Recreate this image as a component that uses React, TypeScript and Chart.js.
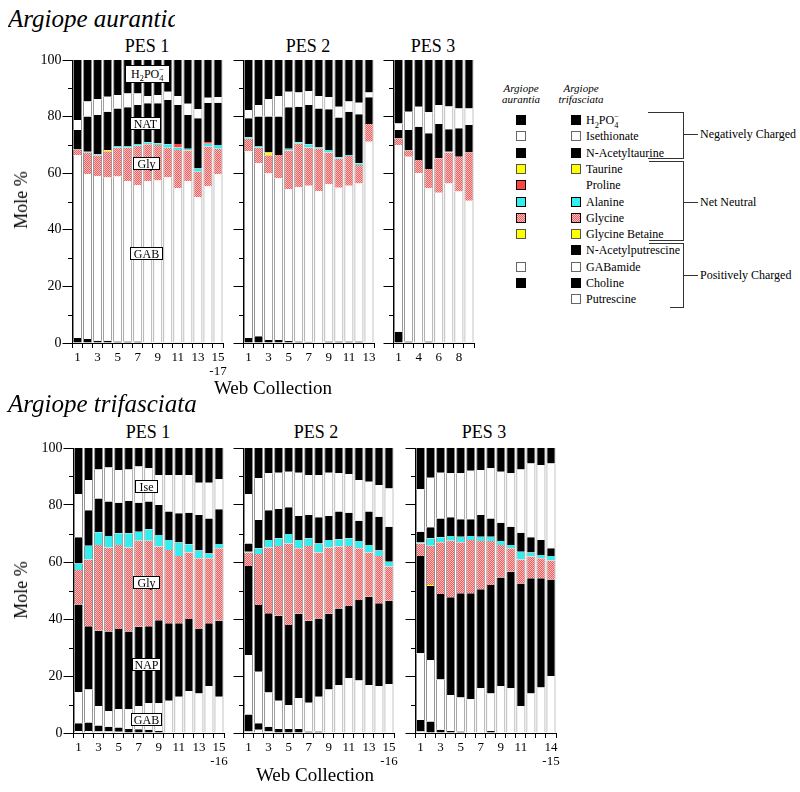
import React, { useEffect, useRef } from 'react';
import { Chart, registerables } from 'chart.js';
Chart.register(...registerables);

const FONT = '"Liberation Serif", "Times New Roman", Times, serif';

// ---------- tick labels ----------
const A1_LABELS: (string | string[])[] = ['1', '', '3', '', '5', '', '7', '', '9', '', '11', '', '13', '', ['15', '-17']];
const A2_LABELS: (string | string[])[] = ['1', '', '3', '', '5', '', '7', '', '9', '', '11', '', '13'];
const A3_LABELS: (string | string[])[] = ['1', '', '4', '', '6', '', '8', ''];
const T1_LABELS: (string | string[])[] = ['1', '', '3', '', '5', '', '7', '', '9', '', '11', '', '13', '', ['15', '-16']];
const T2_LABELS: (string | string[])[] = ['1', '', '3', '', '5', '', '7', '', '9', '', '11', '', '13', '', ['15', '-16']];
const T3_LABELS: (string | string[])[] = ['1', '', '3', '', '5', '', '7', '', '9', '', '11', '', '', ['14', '-15']];
const Y_MINOR = [10, 30, 50, 70, 90];

// ---------- Argiope aurantia, PES 1 ----------
const A1_CHO = [1.8, 1.4, 0.8, 0.8, 0.5, 0.5, 0.5, 0.3, 0.3, 0.3, 0.3, 0.3, 0.3, 0.2, 0.2];
const A1_GAB = [64.5, 58.3, 58.2, 57.7, 58.3, 56.7, 55.3, 56.9, 57.1, 58.2, 54.4, 56.9, 51.2, 55.3, 59.4];
const A1_GLY = [2.1, 7.5, 7.3, 9.3, 10.3, 11.9, 13.9, 13.0, 12.6, 10.5, 13.5, 10.8, 9.0, 13.9, 9.0];
const A1_ALA = [0, 0.4, 0.4, 0, 0.5, 0.5, 0.6, 0.7, 0.6, 1.2, 0.9, 0.6, 1.2, 1.0, 1.4];
const A1_PRO = [0, 0, 0, 0, 0, 0, 0, 0, 0, 0, 1.2, 0, 0, 0.6, 0];
const A1_TAU = [0, 0, 0, 0.4, 0, 0, 0, 0, 0, 0, 0, 0, 0, 0, 0];
const A1_NAT = [6.9, 12.4, 13.9, 13.5, 13.3, 13.7, 13.8, 13.8, 14.1, 15.7, 13.8, 12.0, 17.7, 13.8, 14.9];
const A1_ISE = [3.5, 5.3, 5.5, 5.3, 4.7, 4.9, 4.1, 2.6, 2.9, 2.9, 3.2, 3.9, 3.2, 1.9, 1.9];
const A1_H2P = [21.2, 14.7, 13.9, 13.0, 12.4, 11.8, 11.8, 12.7, 12.4, 11.2, 12.7, 15.5, 17.4, 13.3, 13.2];

// ---------- Argiope aurantia, PES 2 ----------
const A2_CHO = [1.8, 2.4, 1.1, 1.1, 0.7, 0.5, 0.4, 0.3, 0.5, 0.5, 0.5, 0.5, 0.3];
const A2_GAB = [66.0, 61.1, 58.9, 57.1, 53.6, 54.5, 55.2, 53.4, 55.7, 54.4, 55.1, 55.9, 70.8];
const A2_GLY = [4.4, 5.6, 6.3, 8.2, 13.7, 15.4, 13.5, 14.9, 11.1, 10.2, 10.5, 6.5, 6.3];
const A2_ALA = [0.5, 0.5, 0, 0, 0.6, 0.5, 1.1, 0.5, 0.9, 0.5, 0.3, 0.6, 0];
const A2_TAU = [0, 0, 1.0, 0, 0, 0, 0, 0, 0, 0, 0, 0, 0];
const A2_NAT = [6.7, 10.4, 12.7, 13.6, 14.7, 12.6, 13.9, 13.8, 14.4, 14.1, 15.3, 17.3, 9.4];
const A2_ISE = [2.9, 4.1, 6.1, 7.3, 5.5, 5.0, 4.9, 4.4, 4.2, 3.8, 3.6, 4.1, 1.7];
const A2_H2P = [17.7, 15.9, 13.9, 12.7, 11.2, 11.5, 11.0, 12.7, 13.2, 16.5, 14.7, 15.1, 11.5];

// ---------- Argiope aurantia, PES 3 ----------
const A3_CHO = [4.0, 0.5, 0.3, 0.5, 0.3, 0.3, 0.3, 0.3];
const A3_GAB = [66.0, 65.3, 59.7, 54.2, 52.8, 56.1, 53.2, 50.0];
const A3_GLY = [2.3, 2.2, 4.7, 6.8, 12.2, 10.9, 12.3, 17.0];
const A3_ALA = [0, 0, 0, 0, 0, 0.3, 0, 0];
const A3_NAT = [3.0, 7.3, 11.7, 12.6, 12.1, 7.9, 10.1, 9.7];
const A3_ISE = [2.3, 6.4, 7.1, 7.4, 6.7, 8.1, 7.0, 5.9];
const A3_H2P = [22.4, 18.3, 16.5, 18.5, 15.9, 16.4, 17.1, 17.1];

// ---------- Argiope trifasciata, PES 1 ----------
const T1_PUT = [0.7, 0.7, 0.5, 0.5, 0.4, 0.2, 0.2, 0.2, 0.2, 0, 0, 0, 0, 0, 0];
const T1_CHO = [2.7, 3.0, 2.1, 1.7, 1.5, 1.2, 1.1, 0.9, 0.5, 0, 0, 0, 0, 0, 0];
const T1_GAB = [10.9, 11.6, 6.9, 5.5, 6.5, 6.9, 8.2, 9.3, 9.7, 11.3, 12.7, 14.7, 13.9, 16.5, 12.7];
const T1_NAP = [30.8, 22.2, 26.4, 27.9, 28.1, 27.3, 27.8, 27.1, 29.2, 27.2, 25.8, 25.3, 22.8, 22.0, 26.7];
const T1_GLY = [12.1, 23.4, 30.1, 29.5, 29.5, 29.5, 30.2, 30.0, 25.8, 25.7, 23.6, 23.3, 24.6, 22.8, 25.4];
const T1_ALA = [2.3, 4.8, 4.4, 4.0, 4.1, 5.0, 3.1, 4.0, 4.1, 3.5, 4.7, 2.9, 2.7, 1.7, 1.5];
const T1_NAT = [9.2, 12.5, 11.9, 12.1, 10.7, 11.3, 10.2, 9.7, 10.5, 10.0, 10.3, 11.1, 12.5, 12.3, 12.2];
const T1_ISE = [15.2, 10.6, 10.2, 12.0, 11.5, 11.1, 12.7, 11.7, 10.5, 12.8, 13.4, 13.2, 11.3, 12.5, 10.5];
const T1_H2P = [16.1, 11.2, 7.5, 6.8, 7.7, 7.5, 6.5, 7.1, 9.5, 9.5, 9.5, 9.5, 12.2, 12.2, 11.0];

// ---------- Argiope trifasciata, PES 2 ----------
const T2_PUT = [0.5, 1.1, 0.5, 0.2, 0.2, 0.2, 0, 0, 0, 0, 0, 0, 0, 0, 0];
const T2_CHO = [6.0, 2.3, 1.7, 1.2, 1.2, 1.2, 0.5, 0.5, 0.2, 0, 0, 0, 0, 0, 0];
const T2_GAB = [20.9, 18.1, 12.0, 9.9, 8.4, 10.8, 10.1, 12.2, 15.1, 16.8, 19.2, 18.4, 16.8, 16.5, 17.2];
const T2_NAP = [31.2, 23.4, 27.8, 29.8, 28.1, 29.6, 28.8, 27.5, 26.5, 26.9, 25.4, 28.3, 31.0, 29.0, 29.2];
const T2_GLY = [4.7, 17.9, 23.1, 24.5, 28.6, 23.0, 26.2, 23.1, 23.3, 21.7, 21.0, 18.1, 15.5, 16.6, 12.0];
const T2_ALA = [0.3, 2.0, 2.6, 2.7, 3.3, 2.9, 2.7, 3.2, 2.6, 2.6, 2.7, 2.6, 2.7, 1.9, 1.7];
const T2_NAT = [2.9, 9.9, 10.5, 10.3, 9.4, 8.4, 8.2, 9.2, 8.4, 9.7, 9.0, 7.1, 11.7, 11.9, 12.3];
const T2_ISE = [17.4, 14.7, 12.9, 12.7, 12.5, 15.2, 14.0, 14.8, 15.2, 13.4, 13.6, 14.3, 10.5, 11.1, 13.4];
const T2_H2P = [16.1, 10.6, 8.9, 8.7, 8.3, 8.7, 9.5, 9.5, 8.7, 8.9, 9.1, 11.2, 11.8, 13.0, 14.2];

// ---------- Argiope trifasciata, PES 3 ----------
const T3_PUT = [0.5, 0, 0, 0, 0, 0, 0, 0, 0, 0, 0, 0, 0, 0];
const T3_CHO = [4.1, 4.0, 1.1, 0.7, 0.5, 0.2, 0.2, 0.7, 0, 0, 0, 0, 0, 0];
const T3_GAB = [23.4, 21.6, 17.7, 12.6, 12.0, 11.6, 15.5, 13.2, 16.5, 15.7, 9.5, 13.9, 16.0, 20.0];
const T3_NAP = [34.1, 26.0, 30.0, 34.3, 36.5, 37.2, 34.7, 38.0, 38.1, 40.9, 43.0, 40.4, 38.3, 33.9];
const T3_GLB = [0, 0.3, 0, 0, 0, 0, 0, 0, 0, 0, 0, 0, 0, 0];
const T3_GLY = [4.4, 13.8, 18.1, 19.9, 17.9, 18.7, 17.0, 15.5, 11.4, 8.2, 8.4, 7.6, 7.0, 6.6];
const T3_ALA = [0.3, 2.6, 1.8, 1.6, 2.0, 1.4, 1.5, 1.5, 1.4, 1.2, 2.7, 1.4, 1.2, 1.6];
const T3_NAT = [3.8, 3.9, 6.6, 6.6, 6.1, 5.9, 7.6, 6.4, 6.4, 6.4, 6.7, 5.4, 5.2, 2.7];
const T3_ISE = [14.9, 17.4, 16.0, 15.4, 16.1, 17.0, 15.8, 17.6, 17.9, 18.7, 22.2, 25.9, 26.3, 29.8];
const T3_H2P = [14.5, 10.4, 8.7, 8.9, 8.9, 8.0, 7.7, 7.1, 8.3, 8.9, 7.5, 5.4, 6.0, 5.4];

// ---------- legend ----------
const LEGEND_NAMES = ['H2PO4-', 'Isethionate', 'N-Acetyltaurine', 'Taurine', 'Proline', 'Alanine', 'Glycine', 'Glycine Betaine', 'N-Acetylputrescine', 'GABamide', 'Choline', 'Putrescine'];
const LEGEND_AUR: (string | null)[] = ['#000', '#fff', '#000', '#ffff00', '#ff4444', '#33eeee', 'gly', '#ffff00', null, '#fff', '#000', null];
const LEGEND_TRI: (string | null)[] = ['#000', '#fff', '#000', '#ffff00', null, '#33eeee', 'gly', '#ffff00', '#000', '#fff', '#000', '#fff'];

const BLACK = '#000000';
const WHITE = '#ffffff';
const YELLOW = '#ffff00';
const RED = '#ff4444';
const CYAN = '#33eeee';

type Seg = { label: string; data: number[]; color: string };

const A1_SERIES: Seg[] = [
  { label: 'Choline', data: A1_CHO, color: BLACK },
  { label: 'GABamide', data: A1_GAB, color: WHITE },
  { label: 'Glycine', data: A1_GLY, color: 'gly' },
  { label: 'Alanine', data: A1_ALA, color: CYAN },
  { label: 'Proline', data: A1_PRO, color: RED },
  { label: 'Taurine', data: A1_TAU, color: YELLOW },
  { label: 'N-Acetyltaurine', data: A1_NAT, color: BLACK },
  { label: 'Isethionate', data: A1_ISE, color: WHITE },
  { label: 'H2PO4-', data: A1_H2P, color: BLACK },
];
const A2_SERIES: Seg[] = [
  { label: 'Choline', data: A2_CHO, color: BLACK },
  { label: 'GABamide', data: A2_GAB, color: WHITE },
  { label: 'Glycine', data: A2_GLY, color: 'gly' },
  { label: 'Alanine', data: A2_ALA, color: CYAN },
  { label: 'Taurine', data: A2_TAU, color: YELLOW },
  { label: 'N-Acetyltaurine', data: A2_NAT, color: BLACK },
  { label: 'Isethionate', data: A2_ISE, color: WHITE },
  { label: 'H2PO4-', data: A2_H2P, color: BLACK },
];
const A3_SERIES: Seg[] = [
  { label: 'Choline', data: A3_CHO, color: BLACK },
  { label: 'GABamide', data: A3_GAB, color: WHITE },
  { label: 'Glycine', data: A3_GLY, color: 'gly' },
  { label: 'Alanine', data: A3_ALA, color: CYAN },
  { label: 'N-Acetyltaurine', data: A3_NAT, color: BLACK },
  { label: 'Isethionate', data: A3_ISE, color: WHITE },
  { label: 'H2PO4-', data: A3_H2P, color: BLACK },
];
const T1_SERIES: Seg[] = [
  { label: 'Putrescine', data: T1_PUT, color: WHITE },
  { label: 'Choline', data: T1_CHO, color: BLACK },
  { label: 'GABamide', data: T1_GAB, color: WHITE },
  { label: 'N-Acetylputrescine', data: T1_NAP, color: BLACK },
  { label: 'Glycine', data: T1_GLY, color: 'gly' },
  { label: 'Alanine', data: T1_ALA, color: CYAN },
  { label: 'N-Acetyltaurine', data: T1_NAT, color: BLACK },
  { label: 'Isethionate', data: T1_ISE, color: WHITE },
  { label: 'H2PO4-', data: T1_H2P, color: BLACK },
];
const T2_SERIES: Seg[] = [
  { label: 'Putrescine', data: T2_PUT, color: WHITE },
  { label: 'Choline', data: T2_CHO, color: BLACK },
  { label: 'GABamide', data: T2_GAB, color: WHITE },
  { label: 'N-Acetylputrescine', data: T2_NAP, color: BLACK },
  { label: 'Glycine', data: T2_GLY, color: 'gly' },
  { label: 'Alanine', data: T2_ALA, color: CYAN },
  { label: 'N-Acetyltaurine', data: T2_NAT, color: BLACK },
  { label: 'Isethionate', data: T2_ISE, color: WHITE },
  { label: 'H2PO4-', data: T2_H2P, color: BLACK },
];
const T3_SERIES: Seg[] = [
  { label: 'Putrescine', data: T3_PUT, color: WHITE },
  { label: 'Choline', data: T3_CHO, color: BLACK },
  { label: 'GABamide', data: T3_GAB, color: WHITE },
  { label: 'N-Acetylputrescine', data: T3_NAP, color: BLACK },
  { label: 'Glycine Betaine', data: T3_GLB, color: YELLOW },
  { label: 'Glycine', data: T3_GLY, color: 'gly' },
  { label: 'Alanine', data: T3_ALA, color: CYAN },
  { label: 'N-Acetyltaurine', data: T3_NAT, color: BLACK },
  { label: 'Isethionate', data: T3_ISE, color: WHITE },
  { label: 'H2PO4-', data: T3_H2P, color: BLACK },
];

function makeGlyPattern(): CanvasPattern | string {
  const c = document.createElement('canvas');
  c.width = 2;
  c.height = 2;
  const x = c.getContext('2d');
  if (!x) return '#f48c8c';
  x.fillStyle = '#ffbcbc';
  x.fillRect(0, 0, 2, 2);
  x.fillStyle = '#ef5f5f';
  x.fillRect(0, 0, 1, 1);
  x.fillRect(1, 1, 1, 1);
  return x.createPattern(c, 'repeat') || '#f48c8c';
}

const minorTicksPlugin = {
  id: 'minorTicks',
  afterDraw(chart: any) {
    const y = chart.scales.y;
    const ctx = chart.ctx;
    ctx.save();
    ctx.strokeStyle = '#000';
    ctx.lineWidth = 1;
    const xr = Math.round(y.right);
    for (const v of Y_MINOR) {
      const py = Math.round(y.getPixelForValue(v)) + 0.5;
      ctx.beginPath();
      ctx.moveTo(xr - 5, py);
      ctx.lineTo(xr, py);
      ctx.stroke();
    }
    ctx.restore();
  },
};

type PanelProps = {
  left: number;
  top: number;
  width: number;
  height: number;
  labels: (string | string[])[];
  series: Seg[];
  yLabels: boolean;
};

function Panel({ left, top, width, height, labels, series, yLabels }: PanelProps) {
  const ref = useRef<HTMLCanvasElement>(null);
  const YW = yLabels ? 44 : 14;
  const PT = 12;
  const XH = 44;
  const PR = 16;
  const cw = YW + width + PR + 1;
  const ch = PT + height + XH;
  useEffect(() => {
    if (!ref.current) return;
    const pattern = makeGlyPattern();
    const chart = new Chart(ref.current, {
      type: 'bar',
      data: {
        labels: labels as any,
        datasets: series.map((s) => ({
          label: s.label,
          data: s.data,
          backgroundColor: s.color === 'gly' ? (pattern as any) : s.color,
          borderColor: '#8a8a8a',
          borderWidth: { left: 1, right: 1, top: 0, bottom: 0 },
          borderSkipped: false,
          barPercentage: 0.9,
          categoryPercentage: 1,
        })) as any,
      },
      options: {
        responsive: false,
        maintainAspectRatio: false,
        animation: false,
        devicePixelRatio: 1,
        layout: { padding: { top: PT, right: PR, left: 0, bottom: 0 } },
        plugins: { legend: { display: false }, tooltip: { enabled: false }, title: { display: false } },
        scales: {
          x: {
            stacked: true,
            afterFit: (s: any) => {
              s.height = XH;
            },
            grid: { drawOnChartArea: false, tickLength: 5, color: '#000', offset: true },
            border: { display: true, color: '#000', width: 1 },
            ticks: {
              autoSkip: false,
              maxRotation: 0,
              minRotation: 0,
              padding: 2,
              color: '#000',
              font: { family: FONT, size: 13, lineHeight: 1.1 },
            },
          },
          y: {
            stacked: true,
            min: 0,
            max: 100,
            afterFit: (s: any) => {
              s.width = YW + 0.5;
            },
            grid: { drawOnChartArea: false, tickLength: 10, color: '#000' },
            border: { display: true, color: '#000', width: 1 },
            ticks: { stepSize: 20, display: yLabels, padding: 1, color: '#000', font: { family: FONT, size: 14 } },
          },
        },
      } as any,
      plugins: [minorTicksPlugin],
    });
    return () => chart.destroy();
  }, []);
  return (
    <canvas
      ref={ref}
      width={cw}
      height={ch}
      style={{ position: 'absolute', left: left - YW, top: top - PT, width: cw, height: ch }}
    />
  );
}

const abs = (o: React.CSSProperties): React.CSSProperties => ({ position: 'absolute', ...o });

function Box({ l, t, w, h, children }: { l: number; t: number; w: number; h: number; children: React.ReactNode }) {
  return (
    <div
      style={abs({
        left: l,
        top: t,
        width: w,
        height: h,
        boxSizing: 'border-box',
        background: '#fff',
        border: '1px solid #000',
        fontSize: 12,
        lineHeight: 1,
        display: 'flex',
        alignItems: 'center',
        justifyContent: 'center',
        whiteSpace: 'nowrap',
      })}
    >
      {children}
    </div>
  );
}

function H2PO4({ size }: { size: number }) {
  return (
    <span>
      H<span style={{ fontSize: size * 0.7, position: 'relative', top: size * 0.3 }}>2</span>PO
      <span style={{ fontSize: size * 0.7, position: 'relative', top: size * 0.3 }}>4</span>
      <span style={{ fontSize: size * 0.7, position: 'relative', top: -size * 0.45, marginLeft: -size * 0.35 }}>−</span>
    </span>
  );
}

function Swatch({ c, x, y }: { c: string | null; x: number; y: number }) {
  if (!c) return null;
  const bg =
    c === 'gly'
      ? { background: 'repeating-conic-gradient(#ef5f5f 0% 25%, #ffbcbc 0% 50%) 0 0 / 2px 2px' }
      : { background: c };
  return (
    <div
      style={abs({
        left: x - 5,
        top: y - 5,
        width: 10,
        height: 10,
        boxSizing: 'border-box',
        border: c === '#fff' ? '1px solid #666' : c === '#ffff00' ? '1px solid #555' : '1px solid #000',
        ...bg,
      })}
    />
  );
}

function Line({ x1, y1, x2, y2 }: { x1: number; y1: number; x2: number; y2: number }) {
  return (
    <div
      style={abs({
        left: Math.min(x1, x2),
        top: Math.min(y1, y2),
        width: Math.max(1, Math.abs(x2 - x1)),
        height: Math.max(1, Math.abs(y2 - y1)),
        background: '#333',
      })}
    />
  );
}

function Legend() {
  const rowY = (i: number) => 120 + i * 16.3;
  return (
    <>
      <div style={abs({ left: 491, top: 83, width: 60, textAlign: 'center', fontStyle: 'italic', fontSize: 11, lineHeight: '11px' })}>
        Argiope
        <br />
        aurantia
      </div>
      <div style={abs({ left: 546, top: 83, width: 70, textAlign: 'center', fontStyle: 'italic', fontSize: 11, lineHeight: '11px' })}>
        Argiope
        <br />
        trifasciata
      </div>
      {LEGEND_NAMES.map((n, i) => (
        <React.Fragment key={n}>
          <Swatch c={LEGEND_AUR[i]} x={521} y={rowY(i)} />
          <Swatch c={LEGEND_TRI[i]} x={576} y={rowY(i)} />
          <div style={abs({ left: 586, top: rowY(i) - 8, fontSize: 12, lineHeight: '16px', whiteSpace: 'nowrap' })}>
            {n === 'H2PO4-' ? <H2PO4 size={12} /> : n}
          </div>
        </React.Fragment>
      ))}
      {/* Negatively charged */}
      <Line x1={648} y1={112} x2={684} y2={112} />
      <Line x1={683} y1={112} x2={684} y2={158} />
      <Line x1={648} y1={158} x2={684} y2={158} />
      <Line x1={683} y1={134} x2={698} y2={134} />
      <div style={abs({ left: 700, top: 126, fontSize: 12, lineHeight: '16px', whiteSpace: 'nowrap' })}>Negatively Charged</div>
      {/* Net neutral */}
      <Line x1={649} y1={161} x2={684} y2={161} />
      <Line x1={683} y1={161} x2={684} y2={240} />
      <Line x1={649} y1={240} x2={684} y2={240} />
      <Line x1={683} y1={202} x2={698} y2={202} />
      <div style={abs({ left: 700, top: 194, fontSize: 12, lineHeight: '16px', whiteSpace: 'nowrap' })}>Net Neutral</div>
      {/* Positively charged */}
      <Line x1={649} y1={243} x2={684} y2={243} />
      <Line x1={683} y1={243} x2={684} y2={307} />
      <Line x1={670} y1={307} x2={684} y2={307} />
      <Line x1={683} y1={275} x2={698} y2={275} />
      <div style={abs({ left: 700, top: 267, fontSize: 12, lineHeight: '16px', whiteSpace: 'nowrap' })}>Positively Charged</div>
    </>
  );
}

function Title({ text, cx, baseline, size }: { text: string; cx: number; baseline: number; size: number }) {
  return (
    <div
      style={abs({
        left: cx - 60,
        width: 120,
        top: baseline - Math.round(size * 0.86),
        textAlign: 'center',
        fontSize: size,
        lineHeight: `${size}px`,
        whiteSpace: 'nowrap',
      })}
    >
      {text}
    </div>
  );
}

function Rotated({ text, cx, cy, size }: { text: string; cx: number; cy: number; size: number }) {
  return (
    <div
      style={abs({
        left: cx,
        top: cy,
        transform: 'translate(-50%, -50%) rotate(-90deg)',
        fontSize: size,
        lineHeight: `${size}px`,
        whiteSpace: 'nowrap',
      })}
    >
      {text}
    </div>
  );
}

export default function App() {
  return (
    <div
      style={{
        position: 'absolute',
        left: 0,
        top: 0,
        width: 800,
        height: 792,
        background: '#fff',
        fontFamily: FONT,
        color: '#000',
        overflow: 'hidden',
      }}
    >
      {/* Argiope aurantia */}
      <div style={abs({ left: 8, top: 5, width: 167, overflow: 'hidden', fontStyle: 'italic', fontSize: 25, lineHeight: '27px', whiteSpace: 'nowrap' })}>
        Argiope aurantia
      </div>
      <Title text="PES 1" cx={147} baseline={52} size={18} />
      <Title text="PES 2" cx={308} baseline={52} size={18} />
      <Title text="PES 3" cx={433} baseline={52} size={18} />
      <Panel left={72} top={60} width={150} height={283} labels={A1_LABELS} series={A1_SERIES} yLabels={true} />
      <Panel left={243} top={60} width={130} height={283} labels={A2_LABELS} series={A2_SERIES} yLabels={false} />
      <Panel left={393} top={60} width={80} height={283} labels={A3_LABELS} series={A3_SERIES} yLabels={false} />
      <Rotated text="Mole %" cx={21} cy={200} size={18} />
      <Title text="Web Collection" cx={273} baseline={394} size={19} />

      <Box l={125} t={65} w={45} h={18}>
        <H2PO4 size={12} />
      </Box>
      <Box l={130} t={117} w={31} h={13}>NAT</Box>
      <Box l={133} t={157} w={27} h={13}>Gly</Box>
      <Box l={130} t={247} w={33} h={13}>GAB</Box>

      {/* Argiope trifasciata */}
      <div style={abs({ left: 8, top: 390, fontStyle: 'italic', fontSize: 25, lineHeight: '27px', whiteSpace: 'nowrap' })}>
        Argiope trifasciata
      </div>
      <Title text="PES 1" cx={148} baseline={438} size={18} />
      <Title text="PES 2" cx={316} baseline={438} size={18} />
      <Title text="PES 3" cx={484} baseline={438} size={18} />
      <Panel left={73} top={448} width={150} height={285} labels={T1_LABELS} series={T1_SERIES} yLabels={true} />
      <Panel left={243} top={448} width={150} height={285} labels={T2_LABELS} series={T2_SERIES} yLabels={false} />
      <Panel left={415} top={448} width={140} height={285} labels={T3_LABELS} series={T3_SERIES} yLabels={false} />
      <Rotated text="Mole %" cx={21} cy={590} size={18} />
      <Title text="Web Collection" cx={315} baseline={781} size={19} />

      <Box l={135} t={480} w={23} h={13}>Ise</Box>
      <Box l={133} t={576} w={27} h={13}>Gly</Box>
      <Box l={132} t={658} w={29} h={13}>NAP</Box>
      <Box l={131} t={713} w={31} h={13}>GAB</Box>

      <Legend />
    </div>
  );
}
